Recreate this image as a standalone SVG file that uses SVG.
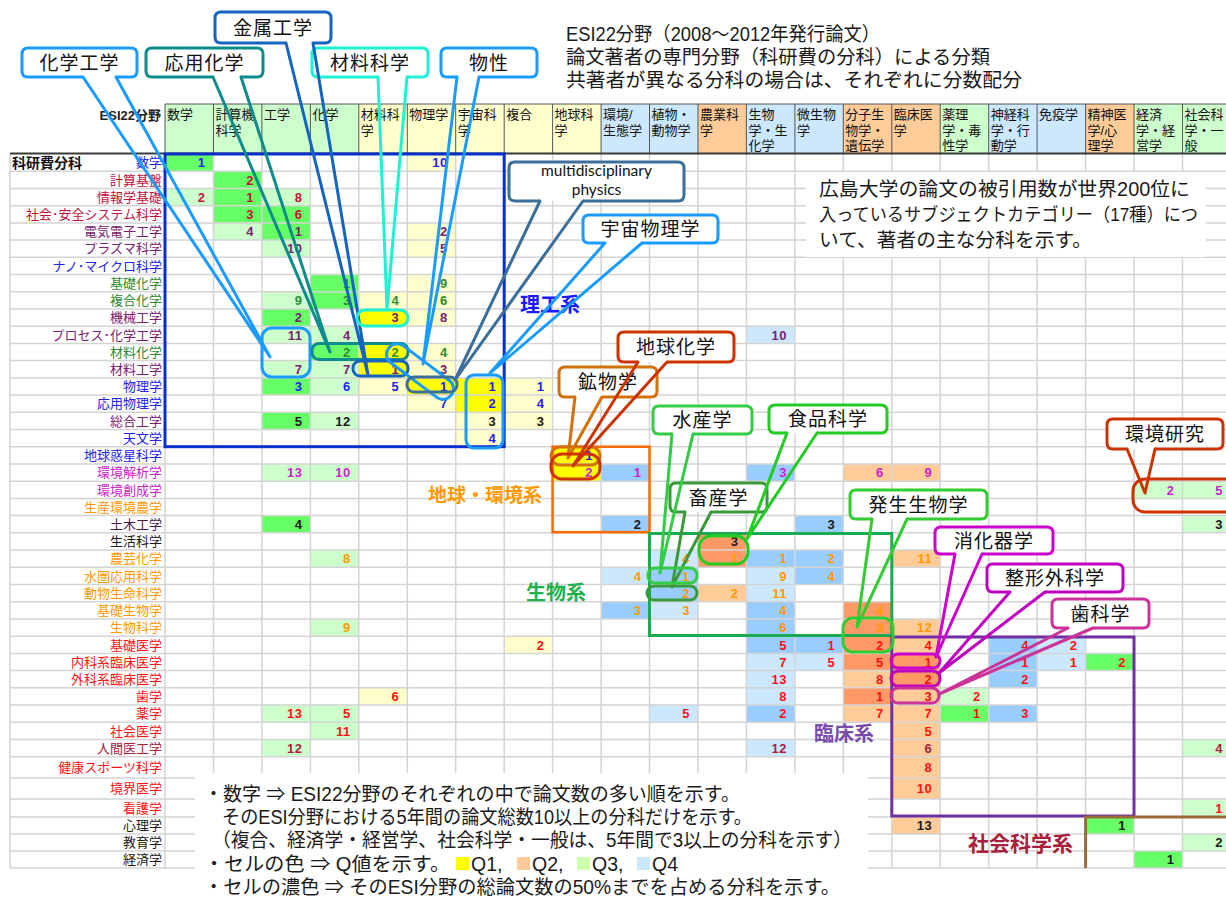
<svg xmlns="http://www.w3.org/2000/svg" width="1226" height="899" viewBox="0 0 1226 899">
<style>
.hg{fill:#ccffcc}.hy{fill:#ffffcc}.hb{fill:#cce8ff}.hp{fill:#ffcc99}
.g1{fill:#66ff66}.g2{fill:#ccffcc}.y1{fill:#ffff00}.y2{fill:#ffffcc}.p1{fill:#ff9966}.p2{fill:#ffcc99}.b1{fill:#99ccff}.b2{fill:#cce8ff}
.n{font-family:"Liberation Sans",Arial,sans-serif;font-weight:bold;font-size:13px;text-anchor:end;letter-spacing:0.5px}
.jp{font-family:"Liberation Sans","Noto Sans CJK JP",sans-serif}
.lbl{font-size:13px;text-anchor:end}
.hd{font-size:13px;fill:#111}
.cb{fill:#2222ee}.cr{fill:#c0103a}.cp{fill:#7a2070}.cg{fill:#2e8b2e}.cm{fill:#cc22cc}.co{fill:#ff9900}.cR{fill:#ff1111}.cd{fill:#a8203c}.ck{fill:#1a1a1a}.cv{fill:#4a1850}
.body{fill:#fff;stroke-width:3;stroke-linejoin:round}
.tail{fill:none;stroke-width:3;stroke-linejoin:round;stroke-linecap:round}
.cap{fill:none;stroke-width:3}
.ct{font-size:19px;text-anchor:middle;fill:#111;letter-spacing:1px}
.big{font-size:19.5px;fill:#1a1a1a}
.cat{font-weight:bold}
.en{font-family:Lato,"Liberation Sans",sans-serif;font-size:15.5px;text-anchor:middle;fill:#111}
</style>
<rect width="1226" height="899" fill="#fff"/>

<g id="header">
<rect class="hg" x="165" y="104" width="48.5" height="49.5"/>
<rect class="hg" x="213.5" y="104" width="48.4" height="49.5"/>
<rect class="hg" x="261.9" y="104" width="48.5" height="49.5"/>
<rect class="hg" x="310.4" y="104" width="48.4" height="49.5"/>
<rect class="hy" x="358.8" y="104" width="48.5" height="49.5"/>
<rect class="hy" x="407.3" y="104" width="48.4" height="49.5"/>
<rect class="hy" x="455.7" y="104" width="48.5" height="49.5"/>
<rect class="hy" x="504.2" y="104" width="48.4" height="49.5"/>
<rect class="hy" x="552.6" y="104" width="48.5" height="49.5"/>
<rect class="hb" x="601.1" y="104" width="48.4" height="49.5"/>
<rect class="hb" x="649.5" y="104" width="48.5" height="49.5"/>
<rect class="hp" x="698" y="104" width="48.4" height="49.5"/>
<rect class="hb" x="746.4" y="104" width="48.5" height="49.5"/>
<rect class="hb" x="794.9" y="104" width="48.4" height="49.5"/>
<rect class="hp" x="843.3" y="104" width="48.5" height="49.5"/>
<rect class="hp" x="891.8" y="104" width="48.4" height="49.5"/>
<rect class="hg" x="940.2" y="104" width="48.5" height="49.5"/>
<rect class="hb" x="988.7" y="104" width="48.4" height="49.5"/>
<rect class="hb" x="1037.1" y="104" width="48.5" height="49.5"/>
<rect class="hp" x="1085.6" y="104" width="48.4" height="49.5"/>
<rect class="hg" x="1134" y="104" width="48.5" height="49.5"/>
<rect class="hg" x="1182.5" y="104" width="48.4" height="49.5"/>
<path d="M165 104H1231M165 104V153M213.5 104V153M261.9 104V153M310.4 104V153M358.8 104V153M407.3 104V153M455.7 104V153M504.2 104V153M552.6 104V153M601.1 104V153M649.5 104V153M698 104V153M746.4 104V153M794.9 104V153M843.3 104V153M891.8 104V153M940.2 104V153M988.7 104V153M1037.1 104V153M1085.6 104V153M1134 104V153M1182.5 104V153" stroke="#555" stroke-width="1" fill="none"/>
<g class="jp hd">
<text x="167" y="119">数学</text>
<text x="215.5" y="119">計算機<tspan x="215.5" y="135">科学</tspan></text>
<text x="263.9" y="119">工学</text>
<text x="312.4" y="119">化学</text>
<text x="360.8" y="119">材料科<tspan x="360.8" y="135">学</tspan></text>
<text x="409.3" y="119">物理学</text>
<text x="457.7" y="119">宇宙科<tspan x="457.7" y="135">学</tspan></text>
<text x="506.2" y="119">複合</text>
<text x="554.6" y="119">地球科<tspan x="554.6" y="135">学</tspan></text>
<text x="603.1" y="119">環境/<tspan x="603.1" y="135">生態学</tspan></text>
<text x="651.5" y="119">植物・<tspan x="651.5" y="135">動物学</tspan></text>
<text x="700" y="119">農業科<tspan x="700" y="135">学</tspan></text>
<text x="748.4" y="119">生物<tspan x="748.4" y="135">学・生</tspan><tspan x="748.4" y="150">化学</tspan></text>
<text x="796.9" y="119">微生物<tspan x="796.9" y="135">学</tspan></text>
<text x="845.3" y="119">分子生<tspan x="845.3" y="135">物学・</tspan><tspan x="845.3" y="150">遺伝学</tspan></text>
<text x="893.8" y="119">臨床医<tspan x="893.8" y="135">学</tspan></text>
<text x="942.2" y="119">薬理<tspan x="942.2" y="135">学・毒</tspan><tspan x="942.2" y="150">性学</tspan></text>
<text x="990.7" y="119">神経科<tspan x="990.7" y="135">学・行</tspan><tspan x="990.7" y="150">動学</tspan></text>
<text x="1039.1" y="119">免疫学</text>
<text x="1087.6" y="119">精神医<tspan x="1087.6" y="135">学/心</tspan><tspan x="1087.6" y="150">理学</tspan></text>
<text x="1136" y="119">経済<tspan x="1136" y="135">学・経</tspan><tspan x="1136" y="150">営学</tspan></text>
<text x="1184.5" y="119">社会科<tspan x="1184.5" y="135">学・一</tspan><tspan x="1184.5" y="150">般</tspan></text>
</g>
<text class="jp" x="161" y="120" font-size="13" font-weight="bold" text-anchor="end" fill="#222">ESI22分野</text>
</g>

<g id="cells">
<rect class="g1" x="165" y="154" width="48.5" height="17.2"/><rect class="y2" x="407.3" y="154" width="48.5" height="17.2"/>
<rect class="g1" x="213.5" y="171.2" width="48.5" height="17.2"/>
<rect class="g2" x="165" y="188.4" width="48.5" height="17.3"/><rect class="g1" x="213.5" y="188.4" width="48.5" height="17.3"/><rect class="g2" x="261.9" y="188.4" width="48.5" height="17.3"/>
<rect class="g1" x="213.5" y="205.7" width="48.5" height="17.2"/><rect class="g1" x="261.9" y="205.7" width="48.5" height="17.2"/>
<rect class="g2" x="213.5" y="222.9" width="48.5" height="17.2"/><rect class="g1" x="261.9" y="222.9" width="48.5" height="17.2"/><rect class="y2" x="407.3" y="222.9" width="48.5" height="17.2"/>
<rect class="g2" x="261.9" y="240.1" width="48.5" height="17.2"/><rect class="y2" x="407.3" y="240.1" width="48.5" height="17.2"/>
<rect class="g1" x="310.4" y="274.5" width="48.5" height="17.3"/><rect class="y2" x="407.3" y="274.5" width="48.5" height="17.3"/>
<rect class="g2" x="261.9" y="291.8" width="48.5" height="17.2"/><rect class="g1" x="310.4" y="291.8" width="48.5" height="17.2"/><rect class="y2" x="358.8" y="291.8" width="48.5" height="17.2"/><rect class="y2" x="407.3" y="291.8" width="48.5" height="17.2"/>
<rect class="g1" x="261.9" y="309" width="48.5" height="17.2"/><rect class="y1" x="358.8" y="309" width="48.5" height="17.2"/><rect class="y2" x="407.3" y="309" width="48.5" height="17.2"/>
<rect class="g2" x="261.9" y="326.2" width="48.5" height="17.2"/><rect class="g2" x="310.4" y="326.2" width="48.5" height="17.2"/><rect class="b2" x="746.4" y="326.2" width="48.5" height="17.2"/>
<rect class="g1" x="310.4" y="343.4" width="48.5" height="17.2"/><rect class="y1" x="358.8" y="343.4" width="48.5" height="17.2"/><rect class="y2" x="407.3" y="343.4" width="48.5" height="17.2"/>
<rect class="g2" x="261.9" y="360.6" width="48.5" height="17.3"/><rect class="g2" x="310.4" y="360.6" width="48.5" height="17.3"/><rect class="y1" x="358.8" y="360.6" width="48.5" height="17.3"/><rect class="y2" x="407.3" y="360.6" width="48.5" height="17.3"/>
<rect class="g1" x="261.9" y="377.9" width="48.5" height="17.2"/><rect class="g2" x="310.4" y="377.9" width="48.5" height="17.2"/><rect class="y2" x="358.8" y="377.9" width="48.5" height="17.2"/><rect class="y1" x="407.3" y="377.9" width="48.5" height="17.2"/><rect class="y1" x="455.7" y="377.9" width="48.5" height="17.2"/><rect class="y2" x="504.2" y="377.9" width="48.5" height="17.2"/>
<rect class="y2" x="407.3" y="395.1" width="48.5" height="17.2"/><rect class="y1" x="455.7" y="395.1" width="48.5" height="17.2"/><rect class="y2" x="504.2" y="395.1" width="48.5" height="17.2"/>
<rect class="g1" x="261.9" y="412.3" width="48.5" height="17.2"/><rect class="g2" x="310.4" y="412.3" width="48.5" height="17.2"/><rect class="y2" x="455.7" y="412.3" width="48.5" height="17.2"/><rect class="y2" x="504.2" y="412.3" width="48.5" height="17.2"/>
<rect class="y2" x="455.7" y="429.5" width="48.5" height="17.2"/>
<rect class="y1" x="552.6" y="446.7" width="48.5" height="17.3"/>
<rect class="g2" x="261.9" y="464" width="48.5" height="17.2"/><rect class="g2" x="310.4" y="464" width="48.5" height="17.2"/><rect class="y1" x="552.6" y="464" width="48.5" height="17.2"/><rect class="b1" x="601.1" y="464" width="48.5" height="17.2"/><rect class="b1" x="746.4" y="464" width="48.5" height="17.2"/><rect class="p2" x="843.3" y="464" width="48.5" height="17.2"/><rect class="p2" x="891.8" y="464" width="48.5" height="17.2"/>
<rect class="g2" x="1134" y="481.2" width="48.5" height="17.2"/><rect class="g2" x="1182.5" y="481.2" width="48.5" height="17.2"/>
<rect class="g1" x="261.9" y="515.6" width="48.5" height="17.2"/><rect class="b1" x="601.1" y="515.6" width="48.5" height="17.2"/><rect class="b1" x="794.9" y="515.6" width="48.5" height="17.2"/><rect class="g2" x="1182.5" y="515.6" width="48.5" height="17.2"/>
<rect class="p1" x="698" y="532.8" width="48.5" height="17.3"/>
<rect class="g2" x="310.4" y="550.1" width="48.5" height="17.2"/><rect class="b2" x="649.5" y="550.1" width="48.5" height="17.2"/><rect class="p1" x="698" y="550.1" width="48.5" height="17.2"/><rect class="b1" x="746.4" y="550.1" width="48.5" height="17.2"/><rect class="b1" x="794.9" y="550.1" width="48.5" height="17.2"/><rect class="p2" x="891.8" y="550.1" width="48.5" height="17.2"/>
<rect class="b2" x="601.1" y="567.3" width="48.5" height="17.2"/><rect class="b1" x="649.5" y="567.3" width="48.5" height="17.2"/><rect class="b2" x="746.4" y="567.3" width="48.5" height="17.2"/><rect class="b1" x="794.9" y="567.3" width="48.5" height="17.2"/>
<rect class="b1" x="649.5" y="584.5" width="48.5" height="17.2"/><rect class="p2" x="698" y="584.5" width="48.5" height="17.2"/><rect class="b2" x="746.4" y="584.5" width="48.5" height="17.2"/>
<rect class="b1" x="601.1" y="601.7" width="48.5" height="17.2"/><rect class="b2" x="649.5" y="601.7" width="48.5" height="17.2"/><rect class="b1" x="746.4" y="601.7" width="48.5" height="17.2"/><rect class="p1" x="843.3" y="601.7" width="48.5" height="17.2"/>
<rect class="g2" x="310.4" y="618.9" width="48.5" height="17.3"/><rect class="b1" x="746.4" y="618.9" width="48.5" height="17.3"/><rect class="p1" x="843.3" y="618.9" width="48.5" height="17.3"/><rect class="p2" x="891.8" y="618.9" width="48.5" height="17.3"/>
<rect class="y2" x="504.2" y="636.2" width="48.5" height="17.2"/><rect class="b1" x="746.4" y="636.2" width="48.5" height="17.2"/><rect class="b1" x="794.9" y="636.2" width="48.5" height="17.2"/><rect class="p1" x="843.3" y="636.2" width="48.5" height="17.2"/><rect class="p2" x="891.8" y="636.2" width="48.5" height="17.2"/><rect class="b1" x="988.7" y="636.2" width="48.5" height="17.2"/><rect class="b2" x="1037.1" y="636.2" width="48.5" height="17.2"/>
<rect class="b2" x="746.4" y="653.4" width="48.5" height="17.2"/><rect class="b2" x="794.9" y="653.4" width="48.5" height="17.2"/><rect class="p1" x="843.3" y="653.4" width="48.5" height="17.2"/><rect class="p1" x="891.8" y="653.4" width="48.5" height="17.2"/><rect class="b1" x="988.7" y="653.4" width="48.5" height="17.2"/><rect class="b2" x="1037.1" y="653.4" width="48.5" height="17.2"/><rect class="g1" x="1085.6" y="653.4" width="48.5" height="17.2"/>
<rect class="b2" x="746.4" y="670.6" width="48.5" height="17.2"/><rect class="p2" x="843.3" y="670.6" width="48.5" height="17.2"/><rect class="p1" x="891.8" y="670.6" width="48.5" height="17.2"/><rect class="b1" x="988.7" y="670.6" width="48.5" height="17.2"/>
<rect class="y2" x="358.8" y="687.8" width="48.5" height="17.2"/><rect class="b2" x="746.4" y="687.8" width="48.5" height="17.2"/><rect class="p1" x="843.3" y="687.8" width="48.5" height="17.2"/><rect class="p2" x="891.8" y="687.8" width="48.5" height="17.2"/><rect class="g2" x="940.2" y="687.8" width="48.5" height="17.2"/>
<rect class="g2" x="261.9" y="705" width="48.5" height="17.3"/><rect class="g2" x="310.4" y="705" width="48.5" height="17.3"/><rect class="b2" x="649.5" y="705" width="48.5" height="17.3"/><rect class="b1" x="746.4" y="705" width="48.5" height="17.3"/><rect class="p2" x="843.3" y="705" width="48.5" height="17.3"/><rect class="p2" x="891.8" y="705" width="48.5" height="17.3"/><rect class="g1" x="940.2" y="705" width="48.5" height="17.3"/><rect class="b1" x="988.7" y="705" width="48.5" height="17.3"/>
<rect class="g2" x="310.4" y="722.3" width="48.5" height="17.2"/><rect class="p2" x="891.8" y="722.3" width="48.5" height="17.2"/>
<rect class="g2" x="261.9" y="739.5" width="48.5" height="17.2"/><rect class="b2" x="746.4" y="739.5" width="48.5" height="17.2"/><rect class="p2" x="891.8" y="739.5" width="48.5" height="17.2"/><rect class="g2" x="1182.5" y="739.5" width="48.5" height="17.2"/>
<rect class="p2" x="891.8" y="756.7" width="48.5" height="21.3"/>
<rect class="p2" x="891.8" y="778" width="48.5" height="21"/>
<rect class="g2" x="1182.5" y="799" width="48.5" height="18"/>
<rect class="p2" x="891.8" y="817" width="48.5" height="17"/><rect class="g1" x="1085.6" y="817" width="48.5" height="17"/>
<rect class="g2" x="1182.5" y="834" width="48.5" height="17"/>
<rect class="g1" x="1134" y="851" width="48.5" height="17"/>
</g>

<g id="grid" fill="none" stroke="#d4d4d4" stroke-width="1.5">
<path d="M10 171.2H1226M10 188.4H1226M10 205.7H1226M10 222.9H1226M10 240.1H1226M10 257.3H1226M10 274.5H1226M10 291.8H1226M10 309H1226M10 326.2H1226M10 343.4H1226M10 360.6H1226M10 377.9H1226M10 395.1H1226M10 412.3H1226M10 429.5H1226M10 446.7H1226M10 464H1226M10 481.2H1226M10 498.4H1226M10 515.6H1226M10 532.8H1226M10 550.1H1226M10 567.3H1226M10 584.5H1226M10 601.7H1226M10 618.9H1226M10 636.2H1226M10 653.4H1226M10 670.6H1226M10 687.8H1226M10 705H1226M10 722.3H1226M10 739.5H1226M10 756.7H1226M10 778H1226M10 799H1226M10 817H1226M10 834H1226M10 851H1226M10 868H1226"/>
<path d="M10 154V868M165 154V868M213.5 154V868M261.9 154V868M310.4 154V868M358.8 154V868M407.3 154V868M455.7 154V868M504.2 154V868M552.6 154V868M601.1 154V868M649.5 154V868M698 154V868M746.4 154V868M794.9 154V868M843.3 154V868M891.8 154V868M940.2 154V868M988.7 154V868M1037.1 154V868M1085.6 154V868M1134 154V868M1182.5 154V868"/>
</g>
<path d="M10 153.5H1226" stroke="#3a3a3a" stroke-width="2.2"/>

<g id="cell-values" class="n">
<g class="cb">
<text x="205.5" y="167.3">1</text><text x="447.7" y="167.3">10</text>
<text x="302.4" y="391.2">3</text><text x="350.8" y="391.2">6</text><text x="399.3" y="391.2">5</text><text x="447.7" y="391.2">1</text><text x="496.2" y="391.2">1</text><text x="544.6" y="391.2">1</text>
<text x="447.7" y="408.4">7</text><text x="496.2" y="408.4">2</text><text x="544.6" y="408.4">4</text>
<text x="496.2" y="442.8">4</text>
<text x="593.1" y="460">1</text>
</g>
<g class="cr">
<text x="253.9" y="184.5">2</text>
<text x="205.5" y="201.7">2</text><text x="253.9" y="201.7">1</text><text x="302.4" y="201.7">8</text>
<text x="253.9" y="219">3</text><text x="302.4" y="219">6</text>
</g>
<g class="cp">
<text x="253.9" y="236.2">4</text><text x="302.4" y="236.2">1</text><text x="447.7" y="236.2">2</text>
<text x="302.4" y="253.4">10</text><text x="447.7" y="253.4">5</text>
<text x="302.4" y="322.3">2</text><text x="399.3" y="322.3">3</text><text x="447.7" y="322.3">8</text>
<text x="302.4" y="339.5">11</text><text x="350.8" y="339.5">4</text><text x="786.9" y="339.5">10</text>
<text x="302.4" y="373.9">7</text><text x="350.8" y="373.9">7</text><text x="399.3" y="373.9">1</text><text x="447.7" y="373.9">3</text>
</g>
<g class="cg">
<text x="350.8" y="287.8">1</text><text x="447.7" y="287.8">9</text>
<text x="302.4" y="305.1">9</text><text x="350.8" y="305.1">3</text><text x="399.3" y="305.1">4</text><text x="447.7" y="305.1">6</text>
<text x="350.8" y="356.7">2</text><text x="399.3" y="356.7">2</text><text x="447.7" y="356.7">4</text>
</g>
<g class="ck">
<text x="302.4" y="425.6">5</text><text x="350.8" y="425.6">12</text><text x="496.2" y="425.6">3</text><text x="544.6" y="425.6">3</text>
<text x="302.4" y="528.9">4</text><text x="641.5" y="528.9">2</text><text x="835.3" y="528.9">3</text><text x="1222.9" y="528.9">3</text>
<text x="738.4" y="546.1">3</text>
<text x="932.2" y="830">13</text><text x="1126" y="830">1</text>
<text x="1222.9" y="847">2</text>
<text x="1174.5" y="864">1</text>
</g>
<g class="cm">
<text x="302.4" y="477.3">13</text><text x="350.8" y="477.3">10</text><text x="593.1" y="477.3">2</text><text x="641.5" y="477.3">1</text><text x="786.9" y="477.3">3</text><text x="883.8" y="477.3">6</text><text x="932.2" y="477.3">9</text>
<text x="1174.5" y="494.5">2</text><text x="1222.9" y="494.5">5</text>
</g>
<g class="co">
<text x="350.8" y="563.4">8</text><text x="690" y="563.4">4</text><text x="738.4" y="563.4">1</text><text x="786.9" y="563.4">1</text><text x="835.3" y="563.4">2</text><text x="932.2" y="563.4">11</text>
<text x="641.5" y="580.6">4</text><text x="690" y="580.6">1</text><text x="786.9" y="580.6">9</text><text x="835.3" y="580.6">4</text>
<text x="690" y="597.8">2</text><text x="738.4" y="597.8">2</text><text x="786.9" y="597.8">11</text>
<text x="641.5" y="615">3</text><text x="690" y="615">3</text><text x="786.9" y="615">4</text><text x="883.8" y="615">4</text>
<text x="350.8" y="632.2">9</text><text x="786.9" y="632.2">6</text><text x="883.8" y="632.2">3</text><text x="932.2" y="632.2">12</text>
</g>
<g class="cR">
<text x="544.6" y="649.5">2</text><text x="786.9" y="649.5">5</text><text x="835.3" y="649.5">1</text><text x="883.8" y="649.5">2</text><text x="932.2" y="649.5">4</text><text x="1029.1" y="649.5">4</text><text x="1077.6" y="649.5">2</text>
<text x="786.9" y="666.7">7</text><text x="835.3" y="666.7">5</text><text x="883.8" y="666.7">5</text><text x="932.2" y="666.7">1</text><text x="1029.1" y="666.7">1</text><text x="1077.6" y="666.7">1</text><text x="1126" y="666.7">2</text>
<text x="786.9" y="683.9">13</text><text x="883.8" y="683.9">8</text><text x="932.2" y="683.9">2</text><text x="1029.1" y="683.9">2</text>
<text x="399.3" y="701.1">6</text><text x="786.9" y="701.1">8</text><text x="883.8" y="701.1">1</text><text x="932.2" y="701.1">3</text><text x="980.7" y="701.1">2</text>
<text x="302.4" y="718.3">13</text><text x="350.8" y="718.3">5</text><text x="690" y="718.3">5</text><text x="786.9" y="718.3">2</text><text x="883.8" y="718.3">7</text><text x="932.2" y="718.3">7</text><text x="980.7" y="718.3">1</text><text x="1029.1" y="718.3">3</text>
<text x="350.8" y="735.6">11</text><text x="932.2" y="735.6">5</text>
<text x="932.2" y="771.8">8</text>
<text x="932.2" y="793">10</text>
<text x="1222.9" y="812.5">1</text>
</g>
<g class="cd">
<text x="302.4" y="752.8">12</text><text x="786.9" y="752.8">12</text><text x="932.2" y="752.8">6</text><text x="1222.9" y="752.8">4</text>
</g>
</g>

<g id="row-labels" class="jp lbl">
<text x="12" y="168" font-size="14" font-weight="bold" text-anchor="start" fill="#111">科研費分科</text>
<text class="cb" x="162" y="167.3">数学</text>
<text class="cr" x="162" y="184.5">計算基盤</text>
<text class="cr" x="162" y="201.7">情報学基礎</text>
<text class="cr" x="162" y="219">社会･安全システム科学</text>
<text class="cp" x="162" y="236.2">電気電子工学</text>
<text class="cp" x="162" y="253.4">プラズマ科学</text>
<text class="cb" x="162" y="270.6">ナノ･マイクロ科学</text>
<text class="cg" x="162" y="287.8">基礎化学</text>
<text class="cg" x="162" y="305.1">複合化学</text>
<text class="cp" x="162" y="322.3">機械工学</text>
<text class="cp" x="162" y="339.5">プロセス･化学工学</text>
<text class="cg" x="162" y="356.7">材料化学</text>
<text class="cp" x="162" y="373.9">材料工学</text>
<text class="cb" x="162" y="391.2">物理学</text>
<text class="cb" x="162" y="408.4">応用物理学</text>
<text class="cp" x="162" y="425.6">総合工学</text>
<text class="cb" x="162" y="442.8">天文学</text>
<text class="cb" x="162" y="460">地球惑星科学</text>
<text class="cm" x="162" y="477.3">環境解析学</text>
<text class="cm" x="162" y="494.5">環境創成学</text>
<text class="co" x="162" y="511.7">生産環境農学</text>
<text class="cv" x="162" y="528.9">土木工学</text>
<text class="ck" x="162" y="546.1">生活科学</text>
<text class="co" x="162" y="563.4">農芸化学</text>
<text class="co" x="162" y="580.6">水圏応用科学</text>
<text class="co" x="162" y="597.8">動物生命科学</text>
<text class="co" x="162" y="615">基礎生物学</text>
<text class="co" x="162" y="632.2">生物科学</text>
<text class="cR" x="162" y="649.5">基礎医学</text>
<text class="cR" x="162" y="666.7">内科系臨床医学</text>
<text class="cR" x="162" y="683.9">外科系臨床医学</text>
<text class="cR" x="162" y="701.1">歯学</text>
<text class="cR" x="162" y="718.3">薬学</text>
<text class="cR" x="162" y="735.6">社会医学</text>
<text class="cd" x="162" y="752.8">人間医工学</text>
<text class="cR" x="162" y="772">健康スポーツ科学</text>
<text class="cR" x="162" y="793">境界医学</text>
<text class="cR" x="162" y="812.5">看護学</text>
<text class="ck" x="162" y="830">心理学</text>
<text class="ck" x="162" y="847">教育学</text>
<text class="ck" x="162" y="864">経済学</text>
</g>

<g id="text-panels">
<rect x="806" y="172" width="400" height="85" fill="#fff"/>
<rect x="195" y="773" width="673" height="126" fill="#fff"/>
<g class="jp big">
<text x="566" y="41" textLength="314" lengthAdjust="spacingAndGlyphs">ESI22分野（2008～2012年発行論文）</text>
<text x="566" y="64" textLength="424" lengthAdjust="spacingAndGlyphs">論文著者の専門分野（科研費の分科）による分類</text>
<text x="566" y="87" textLength="456" lengthAdjust="spacingAndGlyphs">共著者が異なる分科の場合は、それぞれに分数配分</text>
<text x="819" y="196" textLength="371" lengthAdjust="spacingAndGlyphs">広島大学の論文の被引用数が世界200位に</text>
<text x="819" y="221" font-size="18" textLength="379" lengthAdjust="spacingAndGlyphs">入っているサブジェクトカテゴリー（17種）につ</text>
<text x="819" y="247" textLength="273" lengthAdjust="spacingAndGlyphs">いて、著者の主な分科を示す。</text>
<text x="204" y="801" textLength="536" lengthAdjust="spacingAndGlyphs">・数字 ⇒ ESI22分野のそれぞれの中で論文数の多い順を示す。</text>
<text x="222" y="824" textLength="530" lengthAdjust="spacingAndGlyphs">そのESI分野における5年間の論文総数10以上の分科だけを示す。</text>
<text x="212" y="847" textLength="640" lengthAdjust="spacingAndGlyphs">（複合、経済学・経営学、社会科学・一般は、5年間で3以上の分科を示す）</text>
<text x="204" y="871" textLength="246" lengthAdjust="spacingAndGlyphs">・セルの色 ⇒ Q値を示す。</text>
<text x="471" y="871">Q1,</text>
<text x="532" y="871">Q2,</text>
<text x="592" y="871">Q3,</text>
<text x="652" y="871">Q4</text>
<text x="204" y="894" textLength="636" lengthAdjust="spacingAndGlyphs">・セルの濃色 ⇒ そのESI分野の総論文数の50%までを占める分科を示す。</text>
</g>
<rect x="456" y="857" width="13" height="13" fill="#ffff00"/>
<rect x="517" y="857" width="13" height="13" fill="#ffcc99"/>
<rect x="577" y="857" width="13" height="13" fill="#ccffaa"/>
<rect x="637" y="857" width="13" height="13" fill="#cce8ff"/>
</g>

<g id="category-boxes" fill="none" stroke-width="3">
<rect id="box-rikou" x="165" y="154" width="339.2" height="292.7" stroke="#0a2ecc"/>
<rect id="box-chikyu" x="552.6" y="446.7" width="96.9" height="85.5" stroke="#ff6a00" stroke-width="2.5"/>
<rect id="box-seibutsu" x="649.5" y="533.5" width="242.3" height="102" stroke="#1aaa50"/>
<rect id="box-rinsho" x="891.8" y="637" width="242.2" height="179" stroke="#7030a0"/>
<path id="box-shakai" d="M1085.6 868V817H1230" stroke="#9a6a3a"/>
</g>
<g id="category-labels" class="jp cat">
<text x="520" y="312" font-size="20" fill="#1a1aff">理工系</text>
<text x="428" y="502" font-size="19" fill="#ff9900">地球・環境系</text>
<text x="526" y="600" font-size="20" fill="#22b04c">生物系</text>
<text x="814" y="741" font-size="20" fill="#7a4aaa">臨床系</text>
<text x="968" y="851" font-size="21" fill="#a8203c">社会科学系</text>
</g>

<g id="callouts" class="jp">
<g id="c-kagakukogaku"><path class="body" stroke="#1a9cff" d="M116 77H131Q137 77 137 71V54Q137 48 131 48H28Q22 48 22 54V71Q22 77 28 77H83"/><text class="ct" x="79.5" y="69.5">化学工学</text></g>
<g id="c-oyokagaku"><path class="body" stroke="#0e8c8c" d="M241 77H257Q263 77 263 71V54Q263 48 257 48H152Q146 48 146 54V71Q146 77 152 77H213"/><text class="ct" x="204.5" y="69.5">応用化学</text></g>
<g id="c-kinzoku"><path class="body" stroke="#1565c0" d="M313 43H325Q331 43 331 37V18Q331 12 325 12H221Q215 12 215 18V37Q215 43 221 43H286"/><text class="ct" x="273" y="34.5">金属工学</text></g>
<g id="c-zairyo"><path class="body" stroke="#1ff2d2" d="M407 77H422Q428 77 428 71V54Q428 48 422 48H318Q312 48 312 54V71Q312 77 318 77H378"/><text class="ct" x="370" y="69.5">材料科学</text></g>
<g id="c-bussei"><path class="body" stroke="#1a9cff" d="M479 77H531Q537 77 537 71V54Q537 48 531 48H447Q441 48 441 54V71Q441 77 447 77H457"/><text class="ct" x="489" y="69.5">物性</text></g>
<g id="c-multi"><path class="body" stroke="#3c6e9a" d="M583 201H678Q684 201 684 195V168Q684 162 678 162H515Q509 162 509 168V195Q509 201 515 201H540"/><text class="en" x="596.5" y="176">multidisciplinary</text><text class="en" x="596.5" y="195">physics</text></g>
<g id="c-uchu"><path class="body" stroke="#1a9cff" d="M642 243H712Q718 243 718 237V221Q718 215 712 215H589Q583 215 583 221V237Q583 243 589 243H605"/><text class="ct" x="650.5" y="236">宇宙物理学</text></g>
<g id="c-kobutsu"><path class="body" stroke="#d2700a" d="M602 397H651Q657 397 657 391V373Q657 367 651 367H565Q559 367 559 373V391Q559 397 565 397H575"/><text class="ct" x="608" y="389">鉱物学</text></g>
<g id="c-chikyukagaku"><path class="body" stroke="#cc3300" d="M667 362H728Q734 362 734 356V338Q734 332 728 332H624Q618 332 618 338V356Q618 362 624 362H638"/><text class="ct" x="676" y="354">地球化学</text></g>
<g id="c-chikusan"><path class="body" stroke="#3a993a" d="M711 512H761Q767 512 767 506V489Q767 483 761 483H676Q670 483 670 489V506Q670 512 676 512H685"/><text class="ct" x="718.5" y="504.5">畜産学</text></g>
<g id="c-suisan"><path class="body" stroke="#33cc44" d="M693 434H746Q752 434 752 428V412Q752 406 746 406H659Q653 406 653 412V428Q653 434 659 434H672"/><text class="ct" x="702.5" y="427">水産学</text></g>
<g id="c-shokuhin"><path class="body" stroke="#22cc22" d="M817 433H881Q887 433 887 427V411Q887 405 881 405H775Q769 405 769 411V427Q769 433 775 433H787"/><text class="ct" x="828" y="426">食品科学</text></g>
<g id="c-hassei"><path class="body" stroke="#33cc33" d="M907 519H981Q987 519 987 513V496Q987 490 981 490H856Q850 490 850 496V513Q850 519 856 519H872"/><text class="ct" x="918.5" y="511.5">発生生物学</text></g>
<g id="c-shokaki"><path class="body" stroke="#cc00cc" d="M982 554H1047Q1053 554 1053 548V533Q1053 527 1047 527H941Q935 527 935 533V548Q935 554 941 554H955"/><text class="ct" x="994" y="547.5">消化器学</text></g>
<g id="c-seikei"><path class="body" stroke="#c000c0" d="M1045 592H1117Q1123 592 1123 586V570Q1123 564 1117 564H993Q987 564 987 570V586Q987 592 993 592H1010"/><text class="ct" x="1055" y="585">整形外科学</text></g>
<g id="c-shika"><path class="body" stroke="#cc3399" d="M1093 628H1143Q1149 628 1149 622V605Q1149 599 1143 599H1058Q1052 599 1052 605V622Q1052 628 1058 628H1068"/><text class="ct" x="1100.5" y="620.5">歯科学</text></g>
<g id="c-kankyo"><path class="body" stroke="#cc3300" d="M1155 449H1217Q1223 449 1223 443V425Q1223 419 1217 419H1113Q1107 419 1107 425V443Q1107 449 1113 449H1127"/><text class="ct" x="1165" y="441">環境研究</text></g>
</g>

<g id="connectors">
<polyline class="tail" stroke="#1a9cff" points="83,77 270,357 116,77"/>
<rect class="cap" stroke="#1a9cff" x="262" y="328" width="48" height="49" rx="10"/>
<polyline class="tail" stroke="#0e8c8c" points="213,77 330,352 241,77"/>
<rect class="cap" stroke="#0e8c8c" x="312" y="343.5" width="96" height="16" rx="7"/>
<polyline class="tail" stroke="#1565c0" points="286,43 368,375 313,43"/>
<rect class="cap" stroke="#1565c0" x="353" y="361" width="55" height="15" rx="7"/>
<polyline class="tail" stroke="#1ff2d2" points="378,77 387,309 407,77"/>
<rect class="cap" stroke="#1ff2d2" x="357" y="310" width="51" height="16" rx="8"/>
<polyline class="tail" stroke="#1a9cff" points="457,77 423,364 479,77"/>
<rect class="cap" stroke="#1a9cff" x="381" y="361" width="78" height="21" rx="10" transform="rotate(37 420 371.5)"/>
<polyline class="tail" stroke="#3c6e9a" points="540,201 455,380 583,201"/>
<rect class="cap" stroke="#3c6e9a" x="407" y="377" width="50" height="15" rx="7"/>
<polyline class="tail" stroke="#1a9cff" points="605,243 490,373 642,243"/>
<rect class="cap" stroke="#1a9cff" x="466" y="375" width="37" height="73" rx="8"/>
<polyline class="tail" stroke="#d2700a" points="575,397 568,458 602,397"/>
<rect class="cap" stroke="#d2700a" x="551" y="447" width="49" height="18" rx="9"/>
<polyline class="tail" stroke="#cc3300" points="638,362 573,466 667,362"/>
<rect class="cap" stroke="#cc3300" x="551" y="454" width="49" height="25" rx="11"/>
<polyline class="tail" stroke="#3a993a" points="685,512 672,587 711,512"/>
<rect class="cap" stroke="#3a993a" x="647" y="586" width="50" height="14" rx="7"/>
<polyline class="tail" stroke="#33cc44" points="672,434 660,573 693,434"/>
<rect class="cap" stroke="#33cc44" x="648" y="568" width="49" height="15" rx="7"/>
<polyline class="tail" stroke="#22cc22" points="787,433 747,539 817,433"/>
<rect class="cap" stroke="#22cc22" x="699" y="536" width="49" height="28" rx="12"/>
<polyline class="tail" stroke="#33cc33" points="872,519 857,627 907,519"/>
<rect class="cap" stroke="#33cc33" x="843" y="618" width="50" height="34" rx="10"/>
<polyline class="tail" stroke="#cc00cc" points="955,554 936,657 982,554"/>
<rect class="cap" stroke="#cc00cc" x="891" y="654" width="49" height="14" rx="7"/>
<polyline class="tail" stroke="#c000c0" points="1010,592 939,673 1045,592"/>
<rect class="cap" stroke="#c000c0" x="891" y="671" width="49" height="15" rx="7"/>
<polyline class="tail" stroke="#cc3399" points="1068,628 939,694 1093,628"/>
<rect class="cap" stroke="#cc3399" x="891" y="688" width="48" height="15" rx="7"/>
<polyline class="tail" stroke="#cc3300" points="1127,449 1145,493 1155,449"/>
<rect class="cap" stroke="#cc3300" x="1133" y="479" width="110" height="33" rx="12"/>
</g>
</svg>
